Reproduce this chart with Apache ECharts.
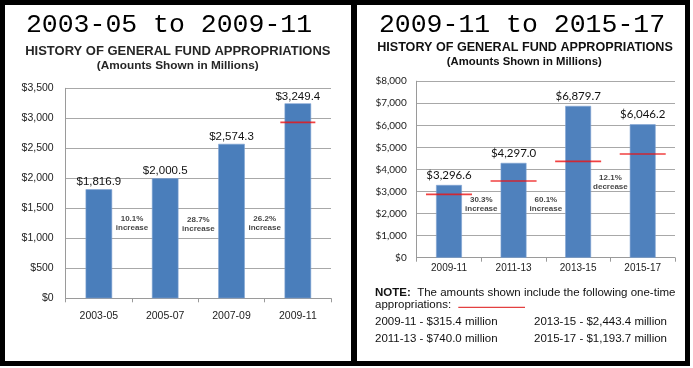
<!DOCTYPE html>
<html><head><meta charset="utf-8">
<script src="https://cdn.jsdelivr.net/npm/echarts@6/dist/echarts.min.js"></script>
<style>html,body{margin:0;padding:0;background:#fff}#c{width:693px;height:368px}</style>
</head><body><div id="c"></div>
<script>
// ---- Left chart data ----
const leftCategories = ['2003-05', '2005-07', '2007-09', '2009-11'];
const leftValues = [1816.9, 2000.5, 2574.3, 3249.4];
const leftRedLineCategory = ['2009-11'];
const leftRedLineValue = [2933];
const leftChangeLabels = ['10.1%\nincrease', '28.7%\nincrease', '26.2%\nincrease'];
const leftChangeY = [1246, 1229, 1246];
const leftYMax = 3500, leftYStep = 500;

// ---- Right chart data ----
const rightCategories = ['2009-11', '2011-13', '2013-15', '2015-17'];
const rightValues = [3296.6, 4297.0, 6879.7, 6046.2];
const rightRedLineValue = [2874, 3477, 4370, 4701];
const rightChangeLabels = ['30.3%\nincrease', '60.1%\nincrease', '12.1%\ndecrease'];
const rightChangeY = [2443, 2443, 3409];
const rightYMax = 8000, rightYStep = 1000;

// ---- Texts ----
const leftTitle = '2003-05 to 2009-11';
const rightTitle = '2009-11 to 2015-17';
const subTitle = 'HISTORY OF GENERAL FUND APPROPRIATIONS';
const subTitle2 = '(Amounts Shown in Millions)';
const noteLine1 = '{b|NOTE:}  The amounts shown include the following one-time';
const noteLine2 = 'appropriations:';
const noteItemsLeft = ['2009-11 - $315.4 million', '2011-13 - $740.0 million'];
const noteItemsRight = ['2013-15 - $2,443.4 million', '2015-17 - $1,193.7 million'];

const money0 = v => '$' + Number(v).toLocaleString('en-US');
const money1 = v => '$' + Number(v).toLocaleString('en-US', {minimumFractionDigits: 1, maximumFractionDigits: 1});

const chart = echarts.init(document.getElementById('c'), null, {renderer: 'canvas'});

const catAxis = (gi, data, margin, fs) => ({
  type: 'category', gridIndex: gi, data: data,
  axisLine: {show: true, onZero: false, lineStyle: {color: '#9a9a9a', width: 1}},
  axisTick: {show: true, length: 4, lineStyle: {color: '#9a9a9a'}},
  axisLabel: {margin: margin, fontSize: fs, color: '#222', fontFamily: 'Liberation Sans, Arial'}
});
const valXAxis = gi => ({type: 'value', gridIndex: gi, min: -0.5, max: 3.5, show: false});
const valYAxis = (gi, max, step, font, fs, margin) => ({
  type: 'value', gridIndex: gi, min: 0, max: max, interval: step,
  axisLine: {show: true, onZero: false, lineStyle: {color: '#9a9a9a'}},
  axisTick: {show: false},
  splitLine: {lineStyle: {color: '#a8a8a8', width: 1}},
  axisLabel: {formatter: money0, fontSize: fs, color: '#222', fontFamily: font, margin: margin}
});

const changeSeries = (xi, yi, labels, ys) => ({
  type: 'scatter', xAxisIndex: xi, yAxisIndex: yi, symbolSize: 0, z: 5,
  data: labels.map((t, i) => ({value: [i + 0.5, ys[i]], label: {formatter: t}})),
  label: {show: true, position: 'inside', fontSize: 8, fontWeight: 'bold', lineHeight: 9,
          color: '#111', fontFamily: 'Liberation Sans, Arial', align: 'center'}
});

const redSeries = (xi, yi, pts, w) => ({
  type: 'scatter', xAxisIndex: xi, yAxisIndex: yi, symbol: 'rect', symbolSize: [w, 1.7], z: 6,
  itemStyle: {color: '#ee1111'}, silent: true,
  data: pts
});

const T = (text, x, y, style) => ({type: 'text', x: x, y: y, silent: true,
  style: Object.assign({text: text, fill: '#222', textAlign: 'center', textVerticalAlign: 'middle'}, style)});

const option = {
  backgroundColor: '#fff',
  animation: false,
  grid: [
    {left: 65.7, right: 362, top: 88.3, bottom: 69.7},
    {left: 416.7, right: 18, top: 81.2, bottom: 110.3}
  ],
  xAxis: [
    catAxis(0, leftCategories, 12, 10.5),
    catAxis(1, rightCategories, 6, 10),
    valXAxis(0),
    valXAxis(1)
  ],
  yAxis: [
    valYAxis(0, leftYMax, leftYStep, 'Liberation Sans, Arial', 10.5, 12),
    valYAxis(1, rightYMax, rightYStep, 'Lato', 10, 10)
  ],
  series: [
    {type: 'bar', xAxisIndex: 0, yAxisIndex: 0, data: leftValues, barWidth: '40%',
     itemStyle: {color: '#4a7ebb', borderColor: '#7fa3d1', borderWidth: 0.6},
     label: {show: true, position: 'top', distance: 1, formatter: p => money1(p.value),
             fontSize: 11.5, color: '#111', fontFamily: 'Liberation Sans, Arial'}},
    {type: 'bar', xAxisIndex: 1, yAxisIndex: 1, data: rightValues, barWidth: '40%',
     itemStyle: {color: '#4f81bd', borderColor: '#7fa3d1', borderWidth: 0.6},
     label: {show: true, position: 'top', distance: 4, formatter: p => money1(p.value),
             fontSize: 11.5, color: '#111', fontFamily: 'Lato'}},
    redSeries(2, 0, leftRedLineCategory.map((c, i) => [leftCategories.indexOf(c), leftRedLineValue[i]]), 35),
    redSeries(3, 1, rightRedLineValue.map((v, i) => [i, v]), 46),
    changeSeries(2, 0, leftChangeLabels, leftChangeY),
    changeSeries(3, 1, rightChangeLabels, rightChangeY)
  ],
  graphic: [
    // frame
    {type: 'rect', shape: {x: 0, y: 0, width: 690, height: 5}, style: {fill: '#000'}, silent: true},
    {type: 'rect', shape: {x: 0, y: 361, width: 690, height: 5}, style: {fill: '#000'}, silent: true},
    {type: 'rect', shape: {x: 0, y: 0, width: 5, height: 366}, style: {fill: '#000'}, silent: true},
    {type: 'rect', shape: {x: 685, y: 0, width: 5, height: 366}, style: {fill: '#000'}, silent: true},
    {type: 'rect', shape: {x: 351, y: 0, width: 6, height: 366}, style: {fill: '#000'}, silent: true},
    // titles
    T(leftTitle, 169, 25, {font: '26.5px "Liberation Mono", monospace', fill: '#000'}),
    T(rightTitle, 522, 24.5, {font: '26.5px "Liberation Mono", monospace', fill: '#000'}),
    T(subTitle, 177.8, 51.7, {font: 'bold 13px "Liberation Sans", Arial', fill: '#262626'}),
    T(subTitle2, 177.8, 65.7, {font: 'bold 11.8px "Liberation Sans", Arial', fill: '#262626'}),
    T(subTitle, 525, 47.3, {font: 'bold 12.6px "Liberation Sans", Arial', fill: '#111'}),
    T(subTitle2, 524.3, 61.7, {font: 'bold 11.3px "Liberation Sans", Arial', fill: '#111'}),
    // note
    {type: 'text', x: 375, y: 292.7, silent: true,
     style: {text: noteLine1, textAlign: 'left', textVerticalAlign: 'middle', fill: '#111',
             font: '11.5px "Liberation Sans", Arial',
             rich: {b: {fontWeight: 'bold', fontSize: 11.5, fontFamily: 'Liberation Sans', fill: '#111'}}}},
    T(noteLine2, 375, 305, {textAlign: 'left', font: '11.5px "Liberation Sans", Arial', fill: '#111'}),
    {type: 'line', shape: {x1: 458.3, y1: 307.3, x2: 525, y2: 307.3}, style: {stroke: '#dd1111', lineWidth: 1}, silent: true},
    T(noteItemsLeft[0], 375, 322.3, {textAlign: 'left', font: '11.5px "Liberation Sans", Arial', fill: '#111'}),
    T(noteItemsLeft[1], 375, 339.3, {textAlign: 'left', font: '11.5px "Liberation Sans", Arial', fill: '#111'}),
    T(noteItemsRight[0], 534, 322.3, {textAlign: 'left', font: '11.5px "Liberation Sans", Arial', fill: '#111'}),
    T(noteItemsRight[1], 534, 339.3, {textAlign: 'left', font: '11.5px "Liberation Sans", Arial', fill: '#111'})
  ]
};
chart.setOption(option);
</script>
</body></html>
